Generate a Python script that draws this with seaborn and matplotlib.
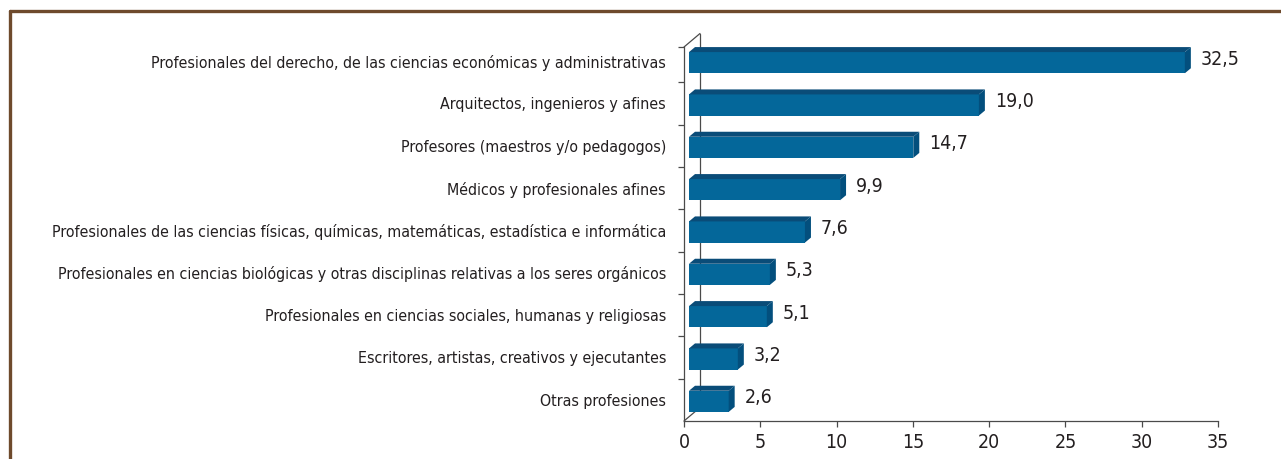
import matplotlib.pyplot as plt
import seaborn as sns
from matplotlib.patches import Polygon
from matplotlib.lines import Line2D
from matplotlib.transforms import ScaledTranslation

# Data
categories = [
    "Profesionales del derecho, de las ciencias económicas y administrativas",
    "Arquitectos, ingenieros y afines",
    "Profesores (maestros y/o pedagogos)",
    "Médicos y profesionales afines",
    "Profesionales de las ciencias físicas, químicas, matemáticas, estadística e informática",
    "Profesionales en ciencias biológicas y otras disciplinas relativas a los seres orgánicos",
    "Profesionales en ciencias sociales, humanas y religiosas",
    "Escritores, artistas, creativos y ejecutantes",
    "Otras profesiones",
]
values = [32.5, 19.0, 14.7, 9.9, 7.6, 5.3, 5.1, 3.2, 2.6]
x_ticks = [0, 5, 10, 15, 20, 25, 30, 35]

front_col = "#04679A"
top_col = "#0A4C78"
side_col = "#034F7D"
text_col = "#231F20"
axis_col = "#4A4A4A"
frame_col = "#6E4A2C"

sns.set_style("white")
plt.rcParams["font.family"] = ["DejaVu Sans"]
plt.rcParams["font.stretch"] = "condensed"

W, H, DPI = 1281, 459, 100
fig = plt.figure(figsize=(W / DPI, H / DPI), dpi=DPI)
ax_l, ax_b, ax_w, ax_h = 684, 38, 534, 381
ax = fig.add_axes([ax_l / W, ax_b / H, ax_w / W, ax_h / H])

sns.barplot(x=values, y=categories, orient="h", color=front_col,
            saturation=1, width=0.5, linewidth=0, ax=ax, zorder=2)
ax.set_xlim(0, 35)
ax.set_ylim(len(categories) - 0.5, -0.5)

# pixel -> data conversion for the fake 3D depth
px_x = ax_w / 35
px_y = ax_h / len(categories)

# shift bars a bit to the back like the Excel 3D look
shift = ScaledTranslation(5 / DPI, -1.5 / DPI, fig.dpi_scale_trans)
bar_tr = ax.transData + shift
ddx, ddy = 6 / px_x, -5 / px_y
for p in ax.patches:
    p.set_transform(bar_tr)
    p.set_zorder(2)
    x0, y0, w, h = p.get_x(), p.get_y(), p.get_width(), p.get_height()
    top = Polygon([(x0, y0), (x0 + w, y0), (x0 + w + ddx, y0 + ddy), (x0 + ddx, y0 + ddy)],
                  closed=True, facecolor=top_col, edgecolor="none", transform=bar_tr, zorder=3)
    side = Polygon([(x0 + w, y0), (x0 + w, y0 + h), (x0 + w + ddx, y0 + h + ddy), (x0 + w + ddx, y0 + ddy)],
                   closed=True, facecolor=side_col, edgecolor="none", transform=bar_tr, zorder=3)
    ax.add_patch(top)
    ax.add_patch(side)

# value labels
for i, v in enumerate(values):
    ax.annotate(f"{v:.1f}".replace(".", ","), xy=(v, i), xytext=(15, 1.5),
                textcoords="offset points", va="center", ha="left",
                fontsize=14, color=text_col)

# back wall of the 3D box
top_y = -0.5 + 7 / px_y
wx, wy = 16 / px_x, -13.5 / px_y
bottom_y = len(categories) - 0.5
ax.plot([wx, wx], [bottom_y + wy, top_y + wy], color=axis_col, lw=0.9, zorder=0.5, clip_on=False)
ax.plot([0, wx], [bottom_y, bottom_y + wy], color=axis_col, lw=0.9, zorder=0.5, clip_on=False)
ax.plot([0, wx], [top_y, top_y + wy], color=axis_col, lw=0.9, zorder=0.5, clip_on=False)

# axes styling
for s in ["top", "right"]:
    ax.spines[s].set_visible(False)
for s in ["left", "bottom"]:
    ax.spines[s].set_color(axis_col)
    ax.spines[s].set_linewidth(0.9)
ax.spines["left"].set_bounds(bottom_y, top_y)

ax.set_xticks(x_ticks)
ax.set_xticklabels([str(t) for t in x_ticks])
ax.tick_params(axis="x", direction="out", length=4, width=0.9, color=axis_col,
               labelsize=14, labelcolor=text_col, pad=5, bottom=True)
ax.set_yticks([top_y] + [i + 0.5 for i in range(len(categories) - 1)], minor=True)
ax.tick_params(axis="y", which="minor", direction="out", length=4.5, width=0.9,
               color=axis_col, left=True)
ax.tick_params(axis="y", which="major", length=0, pad=13, labelsize=14, labelcolor=text_col)
ax.set_xlabel("")
ax.set_ylabel("")
ax.grid(False)

# fit the category labels to the width they take in the reference (~618 px)
renderer = fig.canvas.get_renderer()
ylabels = ax.get_yticklabels()
widest = max(t.get_window_extent(renderer).width for t in ylabels)
fs = 14 * 618 / widest
for t in ylabels:
    t.set_fontsize(fs)

# brown frame (top and left edges)
fig.add_artist(Line2D([10 / W, 1], [1 - 11 / H, 1 - 11 / H], color=frame_col, lw=2.4,
                      transform=fig.transFigure))
fig.add_artist(Line2D([10 / W, 10 / W], [0, 1 - 11 / H], color=frame_col, lw=2.4,
                      transform=fig.transFigure))

fig.savefig("out.png", dpi=DPI)
